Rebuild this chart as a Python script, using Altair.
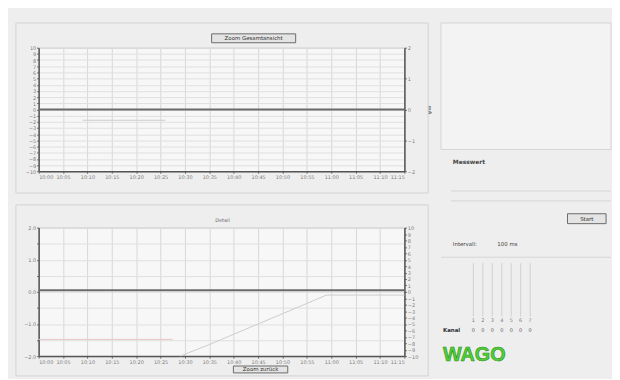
import json
import altair as alt
import pandas as pd

# ---------------- data ----------------
time_labels = ["10:00", "10:05", "10:10", "10:15", "10:20", "10:25", "10:30", "10:35",
               "10:40", "10:45", "10:50", "10:55", "11:00", "11:05", "11:10", "11:15"]
sample_idx = list(range(16))

top_level = [0.0] * 16                      # dark trace, left scale
top_aux_x = [1.8, 3.0, 4.0, 5.2]            # faint trace, right scale
top_aux_y = [-0.35, -0.35, -0.35, -0.35]

bottom_level = [0.05] * 16                  # dark trace, left scale
bottom_pink_x = [0.0, 1.0, 2.0, 3.0, 4.0, 5.5]
bottom_pink_y = [-7.4, -7.4, -7.4, -7.4, -7.4, -7.4]
bottom_rise_x = [5.8, 7.0, 8.0, 9.0, 10.0, 11.0, 11.8, 13.0, 14.0, 15.0]
bottom_rise_y = [-10.0, -8.2, -6.6, -5.0, -3.4, -1.8, -0.5, -0.5, -0.5, -0.5]

top_button_label = "Zoom Gesamtansicht"
bottom_title_label = "Detail"
bottom_button_label = "Zoom zurück"

panel_caption = "Messwert"
panel_button_label = "Start"
panel_interval_label = "Intervall:"
panel_interval_value = "100 ms"
channel_ids = ["1", "2", "3", "4", "5", "6", "7"]
channel_values = ["0", "0", "0", "0", "0", "0", "0"]
channel_row_label = "Kanal"
logo_text = "WAGO"

# ---------------- helpers ----------------
label_expr = json.dumps(time_labels) + "[datum.value]"
FONT = "DejaVu Sans"
one = alt.Data(values=[{"k": 0}])

X_AXIS = alt.Axis(values=sample_idx, labelExpr=label_expr, labelFontSize=5, labelColor="#7a7a7a",
                  tickSize=2, tickColor="#666", domainColor="#555", domainWidth=1.5,
                  gridColor="#d8d8d8", labelPadding=1, title=None, labelOverlap=False,
                  labelFont=FONT)
X_SCALE = alt.Scale(domain=[0, 15], nice=False, zero=False)


def x_enc():
    return alt.X("t:Q", scale=X_SCALE, axis=X_AXIS)


def y_axis(values, orient, grid, label_expr_y=None, title=None):
    kw = dict(values=values, orient=orient, grid=grid, labelFontSize=5, labelColor="#7a7a7a",
              tickSize=2, tickColor="#666", domainColor="#555", domainWidth=1.5,
              gridColor="#e0e0e0", labelPadding=1, titleFontSize=5,
              titleColor="#777", titlePadding=2, labelOverlap=False, minExtent=20, maxExtent=20,
              labelFont=FONT, titleFont=FONT)
    kw["title"] = title if title else None
    if orient == "left":
        kw["minExtent"] = 30
        kw["maxExtent"] = 30
    if label_expr_y:
        kw["labelExpr"] = label_expr_y
    return alt.Axis(**kw)


def frame(y0, y1):
    return alt.Chart(one).mark_rect(fill="transparent", stroke="#d2d2d2", strokeWidth=1).encode(
        x=alt.value(-23), x2=alt.value(394), y=alt.value(y0), y2=alt.value(y1))


def button(x0, x1, y0, y1, label, data=one):
    r = alt.Chart(data).mark_rect(fill="#e4e4e4", stroke="#6a6a6a", strokeWidth=1).encode(
        x=alt.value(x0), x2=alt.value(x1), y=alt.value(y0), y2=alt.value(y1))
    t = alt.Chart(data).mark_text(text=label, fontSize=5.5, font=FONT, color="#333",
                                  baseline="middle", align="center").encode(
        x=alt.value((x0 + x1) / 2), y=alt.value((y0 + y1) / 2))
    return [r, t]


# ---------------- top chart ----------------
top_df = pd.DataFrame({"t": sample_idx, "v": top_level})
top_aux_df = pd.DataFrame({"t": top_aux_x, "v": top_aux_y})

RIGHT_TOP = y_axis([-2, -1, 0, 1, 2], "right", False, title="mA")
top_main = alt.Chart(top_df).mark_line(color="#6b6b6b", strokeWidth=2).encode(
    x=x_enc(),
    y=alt.Y("v:Q", scale=alt.Scale(domain=[-10, 10], nice=False),
            axis=y_axis(list(range(-10, 11)), "left", True)))
top_aux = alt.Chart(top_aux_df).mark_line(color="#cfcfcf", strokeWidth=1).encode(
    x=x_enc(),
    y=alt.Y("v:Q", scale=alt.Scale(domain=[-2, 2], nice=False), axis=RIGHT_TOP))

top = alt.layer(frame(-25, 147), top_main, top_aux,
                *button(175, 260, -14, -5, top_button_label)).resolve_scale(
    y="independent").properties(width=370, height=125,
                                view=alt.ViewBackground(fill="#f7f7f7", stroke="#bdbdbd"))

# ---------------- bottom chart ----------------
bot_df = pd.DataFrame({"t": sample_idx, "v": bottom_level})
pink_df = pd.DataFrame({"t": bottom_pink_x, "v": bottom_pink_y, "s": ["ref"] * len(bottom_pink_x)})
rise_df = pd.DataFrame({"t": bottom_rise_x, "v": bottom_rise_y, "s": ["rise"] * len(bottom_rise_x)})
aux_df = pd.concat([pink_df, rise_df], ignore_index=True)

half_ticks = [-2, -1.5, -1, -0.5, 0, 0.5, 1, 1.5, 2]
bot_main = alt.Chart(bot_df).mark_line(color="#6b6b6b", strokeWidth=2).encode(
    x=x_enc(),
    y=alt.Y("v:Q", scale=alt.Scale(domain=[-2, 2], nice=False),
            axis=y_axis(half_ticks, "left", True,
                        label_expr_y="datum.value % 1 == 0 ? datum.label : ''")))
bot_aux = alt.Chart(aux_df).mark_line(strokeWidth=1).encode(
    x=x_enc(),
    y=alt.Y("v:Q", scale=alt.Scale(domain=[-10, 10], nice=False),
            axis=y_axis(list(range(-10, 11)), "right", False)),
    color=alt.Color("s:N", scale=alt.Scale(domain=["ref", "rise"], range=["#e8c4c4", "#cccccc"]),
                    legend=None))
bot_title = alt.Chart(one).mark_text(text=bottom_title_label, fontSize=5, font=FONT, color="#666",
                                     baseline="middle", align="center").encode(
    x=alt.value(186), y=alt.value(-8))

bottom = alt.layer(frame(-23, 150), bot_main, bot_aux, bot_title,
                   *button(197, 252, 140, 147, bottom_button_label)).resolve_scale(
    y="independent").properties(width=370, height=130,
                                view=alt.ViewBackground(fill="#f7f7f7", stroke="#bdbdbd"))

left = alt.vconcat(top, bottom, spacing=10)

# ---------------- right panel ----------------
D = -25  # panel content offset relative to the panel origin
ch_df = pd.DataFrame({"ch": channel_ids, "val": channel_values})
ch_x = alt.X("ch:N", scale=alt.Scale(domain=channel_ids, range=[28, 95]), axis=None)

p_box = alt.Chart(one).mark_rect(fill="#f3f3f3", stroke="#d4d4d4").encode(
    x=alt.value(0), x2=alt.value(172), y=alt.value(0 + D), y2=alt.value(128 + D))
p_caption = alt.Chart(one).mark_text(text=panel_caption, fontSize=6, font=FONT, fontWeight="bold",
                                     color="#444", align="left", baseline="middle").encode(
    x=alt.value(12), y=alt.value(141 + D))
p_rule1 = alt.Chart(one).mark_rule(color="#d4d4d4").encode(
    x=alt.value(10), x2=alt.value(172), y=alt.value(170 + D))
p_rule2 = alt.Chart(one).mark_rule(color="#d4d4d4").encode(
    x=alt.value(10), x2=alt.value(172), y=alt.value(180 + D))
p_int_l = alt.Chart(one).mark_text(text=panel_interval_label, fontSize=5.5, font=FONT, color="#444",
                                   align="left", baseline="middle").encode(
    x=alt.value(12), y=alt.value(224 + D))
p_int_v = alt.Chart(one).mark_text(text=panel_interval_value, fontSize=5.5, font=FONT, color="#444",
                                   align="left", baseline="middle").encode(
    x=alt.value(57), y=alt.value(224 + D))
p_rule3 = alt.Chart(one).mark_rule(color="#d4d4d4").encode(
    x=alt.value(0), x2=alt.value(172), y=alt.value(237 + D))
p_bars = alt.Chart(ch_df).mark_rule(color="#cfcfcf").encode(
    x=ch_x, y=alt.value(243 + D), y2=alt.value(297 + D))
p_ids = alt.Chart(ch_df).mark_text(fontSize=5, font=FONT, color="#777", baseline="middle").encode(
    x=ch_x, y=alt.value(300 + D), text="ch:N")
p_vals = alt.Chart(ch_df).mark_text(fontSize=5, font=FONT, color="#555", baseline="middle").encode(
    x=ch_x, y=alt.value(311 + D), text="val:N")
p_row = alt.Chart(one).mark_text(text=channel_row_label, fontSize=5.5, font=FONT, fontWeight="bold",
                                 color="#333", align="left", baseline="middle").encode(
    x=alt.value(2), y=alt.value(311 + D))
p_logo = alt.Chart(one).mark_text(text=logo_text, fontSize=20, font="Liberation Sans",
                                  fontWeight="bold", color="#4fcf34", stroke="#2f8f22",
                                  strokeWidth=0.6, align="left", baseline="middle").encode(
    x=alt.value(2), y=alt.value(336 + D))

panel = alt.layer(p_box, p_caption, p_rule1, p_rule2,
                  *button(128, 167, 193 + D, 203 + D, panel_button_label),
                  p_int_l, p_int_v, p_rule3, p_bars, p_ids, p_vals, p_row, p_logo).properties(
    width=172, height=320, view=alt.ViewBackground(fill="transparent", stroke="transparent"))

chart = alt.hconcat(left, panel, spacing=8).properties(
    background="#eeeeee",
    padding={"left": 0, "top": 12, "right": 0, "bottom": 0},
)

chart.save("out.html", embed_options={"renderer": "svg", "actions": False})
